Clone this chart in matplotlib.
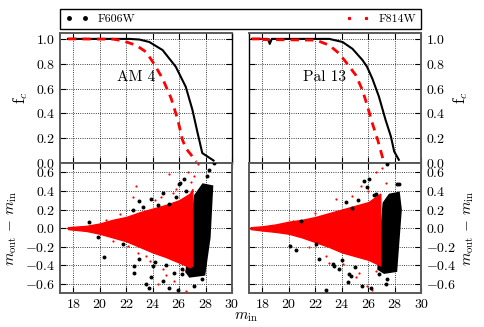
import numpy as np
import matplotlib
matplotlib.use("Agg")
from matplotlib import pyplot as plt
from matplotlib.lines import Line2D

plt.rcParams.update({
    "font.family": "serif",
    "font.serif": ["cmr10"],
    "mathtext.fontset": "cm",
    "axes.formatter.use_mathtext": True,
    "font.size": 10,
})

# completeness curves
am4_606_mag = [17.6, 22.25, 23.0, 23.75, 24.75, 25.75, 26.5, 27.0, 27.4, 27.75, 28.6]
am4_606_fc = [1.0, 1.0, 0.995, 0.975, 0.91, 0.775, 0.614, 0.43, 0.24, 0.08, 0.02]
am4_814_mag = [17.6, 21.0, 21.75, 22.75, 23.5, 24.1, 24.75, 25.4, 25.9, 26.25, 26.5, 27.0, 27.3]
am4_814_fc = [1.0, 0.998, 0.985, 0.949, 0.895, 0.80, 0.68, 0.52, 0.347, 0.187, 0.12, 0.053, 0.01]

pal13_606_mag = [17.2, 18.4, 18.55, 18.7, 23.05, 24.05, 24.8, 25.55, 25.9, 26.3, 26.8, 27.3, 27.7, 27.95, 28.3]
pal13_606_fc = [1.0, 1.0, 0.96, 1.0, 1.0, 0.975, 0.92, 0.83, 0.775, 0.68, 0.534, 0.347, 0.214, 0.093, 0.026]
pal13_814_mag = [17.2, 17.8, 17.9, 18.0, 22.05, 23.05, 23.8, 24.4, 25.05, 25.55, 25.9, 26.3, 26.7, 27.05, 27.15]
pal13_814_fc = [1.0, 1.0, 0.97, 0.995, 0.99, 0.949, 0.882, 0.80, 0.708, 0.588, 0.468, 0.32, 0.187, 0.053, 0.01]

# dense part of the photometric error clouds (envelopes)
am4_wedge_mag = [17.6, 19.0, 20.0, 21.0, 22.0, 23.0, 24.0, 25.0, 26.0, 26.8, 27.0]
am4_wedge_hi = [0.01, 0.025, 0.05, 0.09, 0.12, 0.17, 0.21, 0.25, 0.30, 0.37, 0.42]
am4_wedge_lo = [-0.01, -0.03, -0.06, -0.10, -0.14, -0.20, -0.26, -0.31, -0.37, -0.42, -0.40]
am4_col_mag = [26.55, 27.2, 27.8, 28.5, 28.3, 27.9, 26.8]
am4_col_dm = [-0.47, 0.35, 0.47, 0.45, -0.1, -0.5, -0.52]

pal13_wedge_mag = [17.1, 18.0, 19.0, 20.0, 21.0, 22.0, 23.0, 24.0, 25.0, 26.0, 26.9]
pal13_wedge_hi = [0.01, 0.02, 0.04, 0.07, 0.09, 0.12, 0.16, 0.20, 0.24, 0.28, 0.37]
pal13_wedge_lo = [-0.01, -0.025, -0.04, -0.06, -0.10, -0.15, -0.20, -0.26, -0.30, -0.34, -0.40]
pal13_col_mag = [26.75, 27.15, 27.6, 28.3, 28.45, 28.1, 27.2]
pal13_col_dm = [-0.44, 0.27, 0.36, 0.38, 0.2, -0.46, -0.48]

# sparse outliers
am4_606_out_mag = [19.2, 19.9, 20.3, 23.0, 23.9, 24.75, 26.0, 26.4, 21.75, 22.6, 23.0, 24.0, 23.9,
                   23.75, 24.75, 25.25, 25.6, 25.9, 26.25, 27.1, 27.75, 28.25, 28.6, 28.1, 25.25,
                   22.5, 23.5, 26.1, 22.6, 24.4, 25.8, 26.5, 26.2, 25.0, 24.2, 23.3, 26.6]
am4_606_out_dm = [0.07, -0.1, -0.31, 0.29, 0.31, 0.38, 0.47, 0.53, -0.17, -0.41, -0.33, -0.41, -0.53,
                  -0.64, -0.57, -0.64, -0.48, -0.66, -0.49, -0.62, -0.55, 0.63, 0.7, 0.56, 0.26,
                  0.2, -0.6, 0.49, -0.48, 0.25, 0.33, 0.4, -0.44, -0.4, -0.36, 0.23, -0.46]
am4_814_out_mag = [25.25, 27.4, 27.1, 25.5, 22.5, 22.1, 23.5, 24.75, 25.0, 25.6, 24.4, 26.5, 22.75,
                   21.0, 24.2, 26.7, 20.5, 21.5, 23.8, 25.8, 26.3, 24.6, 22.9, 26.9]
am4_814_out_dm = [0.58, 0.69, 0.56, 0.38, 0.33, -0.19, -0.3, -0.44, -0.5, -0.57, -0.6, -0.67, 0.455,
                  -0.14, 0.3, 0.6, 0.09, 0.15, -0.35, 0.42, -0.45, 0.34, -0.27, 0.5]

pal13_606_out_mag = [26.05, 25.9, 26.55, 27.4, 28.2, 24.3, 24.8, 22.05, 22.3, 23.4, 24.7, 24.45,
                     25.55, 26.2, 26.8, 27.4, 27.3, 22.8, 20.05, 20.55, 20.9, 23.3, 23.8, 24.55,
                     25.7, 28.3, 25.2, 26.4, 25.0, 24.0]
pal13_606_out_dm = [0.53, 0.44, 0.37, 0.69, 0.47, 0.28, 0.22, -0.17, -0.33, -0.41, -0.51, -0.58,
                    -0.62, -0.64, -0.49, -0.55, -0.6, -0.66, -0.19, -0.23, 0.08, -0.39, -0.44, -0.49,
                    0.51, 0.47, 0.3, 0.36, -0.42, -0.34]
pal13_814_out_mag = [26.55, 27.05, 27.3, 25.45, 23.55, 24.05, 25.3, 25.9, 23.05, 25.05, 21.5, 26.3,
                     20.3, 22.0, 24.8, 26.0, 22.8, 26.6]
pal13_814_out_dm = [0.6, 0.65, 0.49, 0.455, 0.31, -0.39, -0.48, -0.62, -0.37, -0.53, -0.2, -0.66,
                    0.08, 0.16, 0.35, 0.4, -0.3, -0.46]

clusters = [
    ("AM 4", am4_606_mag, am4_606_fc, am4_814_mag, am4_814_fc,
     am4_wedge_mag, am4_wedge_hi, am4_wedge_lo, am4_col_mag, am4_col_dm,
     am4_606_out_mag, am4_606_out_dm, am4_814_out_mag, am4_814_out_dm),
    ("Pal 13", pal13_606_mag, pal13_606_fc, pal13_814_mag, pal13_814_fc,
     pal13_wedge_mag, pal13_wedge_hi, pal13_wedge_lo, pal13_col_mag, pal13_col_dm,
     pal13_606_out_mag, pal13_606_out_dm, pal13_814_out_mag, pal13_814_out_dm),
]

spine_grey = "#5a5a5a"


def style_axes(ax, right):
    ax.set_xlim(17, 30)
    ax.set_xticks(np.arange(18, 31, 2))
    ax.grid(True, color="k", linestyle=":", linewidth=0.6)
    ax.tick_params(direction="in", length=4, top=True, right=True, labelsize=10)
    if right:
        ax.tick_params(labelleft=False, labelright=True)
        ax.yaxis.set_label_position("right")
    for s in ax.spines.values():
        s.set_color(spine_grey)
        s.set_linewidth(1.4)


fig = plt.figure(figsize=(4.84, 3.27), dpi=100)
lefts = [0.124, 0.515]
for i, c in enumerate(clusters):
    (name, m606, f606, m814, f814, wm, whi, wlo, cm, cdm,
     o6m, o6d, o8m, o8d) = c
    right = i == 1
    ax_t = fig.add_axes([lefts[i], 0.5015, 0.3555, 0.3985])
    ax_b = fig.add_axes([lefts[i], 0.103, 0.3555, 0.3985])

    ax_t.plot(m606, f606, color="k", lw=1.5)
    ax_t.plot(m814, f814, color="r", lw=2, ls=(0, (3, 2.2)))
    style_axes(ax_t, right)
    ax_t.set_ylim(0, 1.05)
    ax_t.set_yticks(np.arange(0, 1.01, 0.2))
    ax_t.tick_params(labelbottom=False)
    ax_t.set_ylabel("f$_c$", fontsize=12)
    ax_t.text(0.44, 0.66, name, transform=ax_t.transAxes, ha="center", va="center", fontsize=11)
    inner = "right" if i == 0 else "left"
    ax_t.spines[inner].set_color("k")
    ax_t.spines[inner].set_linewidth(1.0)

    ax_b.fill(cm, cdm, color="k", lw=1.5, zorder=2)
    ax_b.fill_between(wm, wlo, whi, color="r", lw=1.0, edgecolor="r", zorder=3)
    ax_b.scatter(o8m, o8d, s=2.5, color="r", lw=0, zorder=3)
    ax_b.scatter(o6m, o6d, s=8, color="k", lw=0, zorder=4)
    style_axes(ax_b, right)
    ax_b.set_ylim(-0.7, 0.7)
    ax_b.set_yticks(np.arange(-0.6, 0.61, 0.2))
    ax_b.set_ylabel(r"$m_{\rm out}\,-\,m_{\rm in}$", fontsize=11)

fig.text(0.508, 0.03, r"$m_{\rm in}$", ha="center", va="center", fontsize=11)

handles = [Line2D([], [], ls="none", marker="o", ms=2.5, color="k"),
           Line2D([], [], ls="none", marker="s", ms=1.3, color="r")]
fig.legend(handles, ["F606W", "F814W"], loc="lower left",
           bbox_to_anchor=(0.124, 0.911, 0.7465, 0.052), mode="expand", ncol=2,
           fontsize=8.5, numpoints=2, borderaxespad=0, fancybox=False,
           edgecolor="k", framealpha=1, handlelength=2, borderpad=0.42)

fig.savefig("out.png", dpi=100)
